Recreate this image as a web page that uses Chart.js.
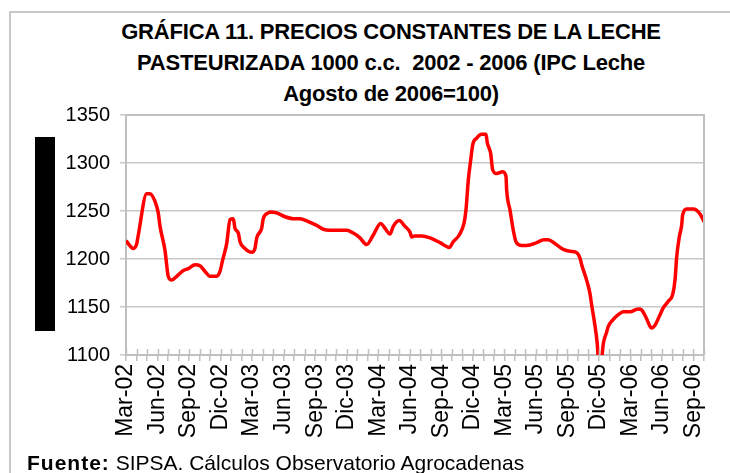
<!DOCTYPE html>
<html>
<head>
<meta charset="utf-8">
<script src="https://cdn.jsdelivr.net/npm/chart.js@4.4.1/dist/chart.umd.min.js"></script>
<style>
  html, body { margin:0; padding:0; background:#fff; width:730px; height:473px; overflow:hidden; }
  #frame { position:absolute; left:9px; top:11px; width:730px; height:473px; border-left:2px solid #c8c8c8; border-top:2px solid #c8c8c8; }
  #title { position:absolute; left:0; top:16px; width:782px; text-align:center; font-family:"Liberation Sans", Arial, sans-serif; font-weight:bold; font-size:22px; line-height:31px; color:#000; letter-spacing:-0.2px; }
  #ybar { position:absolute; left:35px; top:137px; width:20px; height:194px; background:#000; }
  #source { position:absolute; left:27px; top:451px; font-family:"Liberation Sans", Arial, sans-serif; font-size:21px; color:#000; white-space:nowrap; }
  #source b { letter-spacing:1px; }
  canvas { position:absolute; left:0; top:0; }
</style>
</head>
<body>
<div id="frame"></div>
<div id="title">GRÁFICA 11. PRECIOS CONSTANTES DE LA LECHE<br>PASTEURIZADA 1000 c.c.&nbsp; 2002 - 2006 (IPC Leche<br>Agosto de 2006=100)</div>
<div id="ybar"></div>
<canvas id="c" width="730" height="473"></canvas>
<div id="source"><b>Fuente:</b> SIPSA. Cálculos Observatorio Agrocadenas</div>
<script>
// Tick labels (every 3 months starting Mar-02)
const meses = ['Mar-02','Jun-02','Sep-02','Dic-02','Mar-03','Jun-03','Sep-03','Dic-03','Mar-04','Jun-04','Sep-04','Dic-04','Mar-05','Jun-05','Sep-05','Dic-05','Mar-06','Jun-06','Sep-06'];
// Time position in months since Mar-02
const periodo = [0.0,0.7,1.0,1.17,1.97,2.28,2.76,3.07,3.24,3.71,4.02,4.35,4.82,5.45,5.93,6.57,7.04,7.52,7.99,8.63,8.94,9.2,9.58,9.9,10.21,10.37,10.69,10.85,11.32,11.96,12.27,12.44,12.91,13.06,13.54,13.7,14.34,15.13,15.92,16.56,17.35,18.14,18.77,19.41,21.0,21.63,22.26,22.9,23.53,24.23,24.64,25.12,25.43,26.0,26.55,27.02,27.18,27.5,28.14,28.93,29.88,30.76,31.14,31.71,32.16,32.35,32.57,32.8,32.99,33.37,33.84,34.25,34.38,34.7,34.89,35.27,35.84,36.16,36.22,36.54,36.85,37.11,37.65,38.13,39.08,39.77,40.18,40.82,41.61,42.25,42.82,43.2,43.36,43.83,44.15,44.31,44.62,44.84,44.94,45.26,45.42,45.74,45.9,46.37,46.84,47.32,47.95,48.74,49.06,49.53,50.01,50.34,50.74,51.12,51.6,52.02,52.24,52.4,52.65,52.87,52.97,53.35,53.98,54.61,55.0];
// Constant price (pesos)
const precio = [1219,1211,1215,1225,1268,1268,1260,1248,1234,1209,1182,1178,1182,1188,1190,1194,1193,1187,1182,1182,1187,1199,1216,1241,1242,1232,1227,1218,1211,1207,1211,1222,1232,1242,1248,1249,1248,1244,1242,1242,1239,1235,1231,1230,1230,1227,1222,1215,1225,1237,1232,1226,1234,1240,1234,1228,1223,1224,1224,1222,1217,1212,1218,1225,1237,1251,1282,1303,1319,1326,1330,1330,1321,1310,1293,1289,1291,1286,1272,1251,1230,1218,1214,1214,1217,1220,1220,1216,1210,1208,1207,1201,1194,1178,1164,1152,1131,1112,1098,1098,1112,1124,1130,1137,1142,1145,1145,1148,1147,1138,1128,1131,1140,1149,1156,1163,1178,1202,1223,1235,1246,1252,1252,1247,1239];

const puntos = periodo.map((m, i) => ({ x: m, y: precio[i] }));
const AXIS = '#c0c0c0';

const extras = {
  id: 'extras',
  afterDatasetsDraw(chart) {
    const { ctx, chartArea: a, scales: { x } } = chart;
    ctx.save();
    ctx.strokeStyle = AXIS;
    ctx.lineWidth = 1.5;
    // inner half of the crossing ticks on x axis
    for (let m = x.min; m <= x.max; m++) {
      const px = Math.round(x.getPixelForValue(m)) + 0.5;
      ctx.beginPath();
      ctx.moveTo(px, a.bottom - 6);
      ctx.lineTo(px, a.bottom);
      ctx.stroke();
    }
    // top and right borders of the plot area
    ctx.lineWidth = 2;
    ctx.beginPath();
    ctx.moveTo(a.left, a.top);
    ctx.lineTo(a.right, a.top);
    ctx.lineTo(a.right, a.bottom);
    ctx.stroke();
    ctx.restore();
  }
};

new Chart(document.getElementById('c'), {
  type: 'line',
  data: {
    datasets: [{
      data: puntos,
      borderColor: '#ff0000',
      borderWidth: 3.5,
      pointRadius: 0,
      fill: false,
      tension: 0.4,
      cubicInterpolationMode: 'monotone'
    }]
  },
  options: {
    responsive: false,
    animation: false,
    events: [],
    layout: { padding: { top: 115, right: 26, bottom: 0, left: 0 } },
    plugins: { legend: { display: false }, title: { display: false }, tooltip: { enabled: false } },
    scales: {
      x: {
        type: 'linear',
        min: 0,
        max: 55,
        afterFit(s) { s.height = 118; s.paddingLeft = 0; s.paddingRight = 0; },
        border: { color: AXIS, width: 2 },
        grid: { drawOnChartArea: false, drawTicks: true, tickLength: 6, color: AXIS, lineWidth: 1.5 },
        ticks: {
          stepSize: 1,
          autoSkip: false,
          maxTicksLimit: 200,
          minRotation: 90,
          maxRotation: 90,
          padding: 3,
          color: '#000',
          font: { family: '"Liberation Sans", Arial, sans-serif', size: 23 },
          callback: (v) => (Number.isInteger(v) && v % 3 === 0 && v / 3 < meses.length) ? meses[v / 3] : ''
        }
      },
      y: {
        min: 1100,
        max: 1350,
        afterFit(s) { s.width = 126; s.paddingTop = 0; s.paddingBottom = 0; },
        border: { color: AXIS, width: 2 },
        grid: { color: '#c8c8c8', lineWidth: 1.5, tickLength: 6 },
        ticks: {
          stepSize: 50,
          padding: 10,
          color: '#000',
          font: { family: '"Liberation Sans", Arial, sans-serif', size: 20 },
          callback: (v) => String(v)
        }
      }
    }
  },
  plugins: [extras]
});
</script>
</body>
</html>
